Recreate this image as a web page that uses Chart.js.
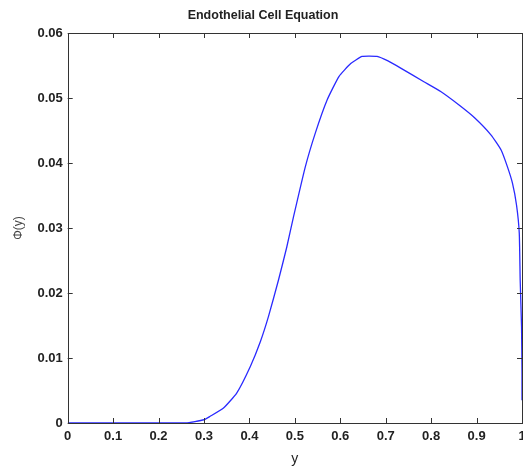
<!DOCTYPE html>
<html>
<head>
<meta charset="utf-8">
<script src="https://cdn.jsdelivr.net/npm/chart.js@4/dist/chart.umd.min.js"></script>
<style>
  html, body { margin: 0; padding: 0; background: #fff; overflow: hidden; }
  #wrap { width: 535px; height: 466px; position: relative; }
</style>
</head>
<body>
<div id="wrap"><canvas id="plot"></canvas></div>
<script>
// values
var yValues   = [0, 0.1, 0.2, 0.26, 0.30, 0.313, 0.343, 0.372, 0.402, 0.424, 0.442, 0.464, 0.482, 0.497, 0.523, 0.545, 0.571, 0.597, 0.623, 0.648, 0.681, 0.705, 0.733, 0.784, 0.821, 0.860, 0.895, 0.932, 0.954, 0.968, 0.979, 0.988, 0.994, 0.996, 0.999, 1.0, 1.0];
var phiValues = [0, 0, 0, 0, 0.0005, 0.0010, 0.0023, 0.0046, 0.0087, 0.0125, 0.0164, 0.0220, 0.0270, 0.0317, 0.0394, 0.0446, 0.0497, 0.0533, 0.0553, 0.0564, 0.0564, 0.0557, 0.0546, 0.0525, 0.0510, 0.0490, 0.0470, 0.0443, 0.0420, 0.0394, 0.0369, 0.0335, 0.0292, 0.0220, 0.0148, 0.0077, 0.0035];
var xTicks = [0, 0.1, 0.2, 0.3, 0.4, 0.5, 0.6, 0.7, 0.8, 0.9, 1];
var yTicks = [0, 0.01, 0.02, 0.03, 0.04, 0.05, 0.06];

var pts = [];
for (var i = 0; i < yValues.length; i++) {
    pts.push({x: yValues[i], y: phiValues[i]});
}

// matlab style box with inward ticks
var boxPlugin = {
    id: 'box',
    afterDraw: function (chart) {
        var ctx = chart.ctx;
        var a = chart.chartArea;
        var sx = chart.scales.x, sy = chart.scales.y;
        ctx.save();
        ctx.strokeStyle = '#333';
        ctx.lineWidth = 1;
        ctx.strokeRect(Math.round(a.left) + 0.5, Math.round(a.top) + 0.5, Math.round(a.right - a.left), Math.round(a.bottom - a.top));
        var len = 5;
        ctx.beginPath();
        xTicks.forEach(function (v) {
            var px = Math.round(sx.getPixelForValue(v)) + 0.5;
            ctx.moveTo(px, a.bottom); ctx.lineTo(px, a.bottom - len);
            ctx.moveTo(px, a.top); ctx.lineTo(px, a.top + len);
        });
        yTicks.forEach(function (v) {
            var py = Math.round(sy.getPixelForValue(v)) + 0.5;
            ctx.moveTo(a.left, py); ctx.lineTo(a.left + len, py);
            ctx.moveTo(a.right, py); ctx.lineTo(a.right - len, py);
        });
        ctx.stroke();
        ctx.restore();
    }
};

var tickFont = { family: 'Liberation Sans', size: 13, weight: 'bold', lineHeight: 1 };

var ctx = document.getElementById('plot').getContext('2d');
var chart = new Chart(ctx, {
    type: 'scatter',
    data: {
        datasets: [{
            label: 'phi',
            data: pts,
            showLine: true,
            borderColor: '#2a2aff',
            borderWidth: 1.3,
            pointRadius: 0,
            tension: 0.15,
            fill: false
        }]
    },
    options: {
        responsive: true,
        maintainAspectRatio: false,
        animation: false,
        layout: { padding: { left: 4, right: 13, top: 8, bottom: 0 } },
        plugins: {
            legend: { display: false },
            tooltip: { enabled: false },
            title: {
                display: true,
                text: 'Endothelial Cell Equation',
                color: '#222',
                font: { family: 'Liberation Sans', size: 12.5, weight: 'bold' },
                padding: { top: 0, bottom: 10 }
            }
        },
        scales: {
            x: {
                type: 'linear',
                min: 0, max: 1,
                afterBuildTicks: function (s) { s.ticks = xTicks.map(function (v) { return {value: v}; }); },
                grid: { display: false, drawTicks: false, tickLength: 0 },
                border: { display: false },
                ticks: {
                    color: '#222',
                    padding: 7,
                    maxRotation: 0,
                    font: tickFont,
                    callback: function (v) { return String(Math.round(v * 10) / 10); }
                },
                title: {
                    display: true, text: 'y', color: '#222',
                    font: { family: 'Liberation Sans', size: 14, lineHeight: 1 },
                    padding: { top: 2, bottom: 0 }
                }
            },
            y: {
                type: 'linear',
                min: 0, max: 0.06,
                afterBuildTicks: function (s) { s.ticks = yTicks.map(function (v) { return {value: v}; }); },
                grid: { display: false, drawTicks: false, tickLength: 0 },
                border: { display: false },
                ticks: {
                    color: '#222',
                    padding: 5,
                    font: tickFont,
                    callback: function (v) { return v === 0 ? '0' : v.toFixed(2); }
                },
                title: {
                    display: true, text: 'Φ(y)', color: '#444',
                    font: { family: 'Liberation Sans', size: 12 },
                    padding: { top: 7, bottom: 7 }
                }
            }
        }
    },
    plugins: [boxPlugin]
});
</script>
</body>
</html>
